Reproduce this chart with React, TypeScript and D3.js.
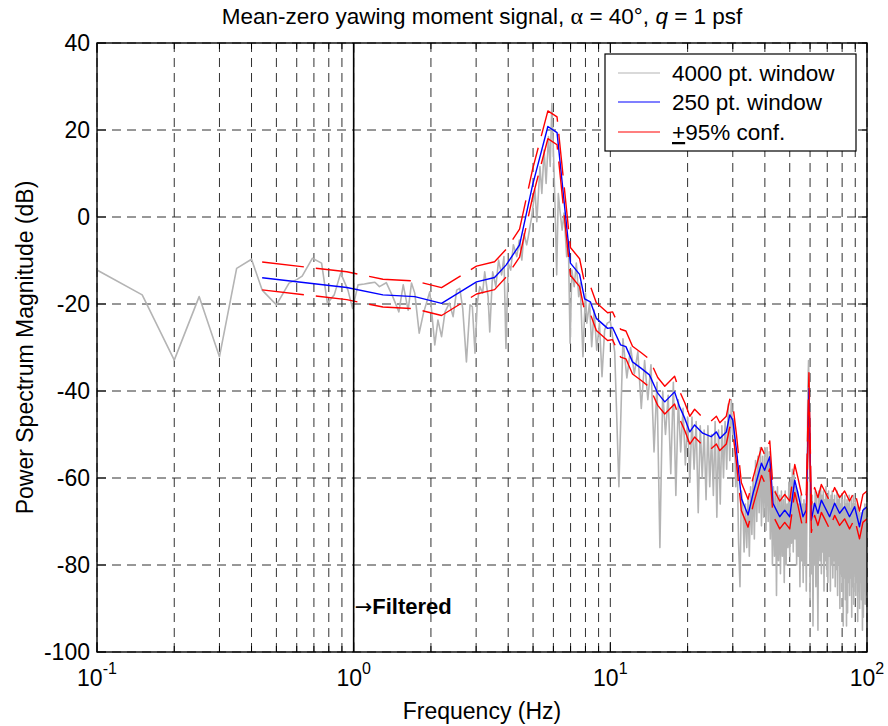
import React from "react";
import * as d3 from "d3";

// 4000 pt. window (Hz, dB)
const grayLow: [number, number][] = [
  [0.1, -12.2], [0.15, -17.9], [0.2, -32.9], [0.25, -18.3], [0.3, -32.1], [0.35, -11.8],
  [0.4, -9.7], [0.44, -16.8], [0.5, -20.2], [0.56, -15.2], [0.6, -14.4], [0.63, -13.6],
  [0.69, -9.5], [0.75, -10.6], [0.79, -19.8], [0.84, -17.9], [0.89, -12.9], [0.95, -16.8],
  [0.99, -21], [1.04, -15.6], [1.1, -15.4], [1.15, -15.2], [1.21, -15], [1.26, -16],
  [1.34, -15.1], [1.42, -18.3], [1.5, -21.8], [1.56, -15.6], [1.63, -21.4], [1.68, -15.2],
  [1.73, -17.5], [1.8, -26.7], [1.87, -22.1], [1.98, -17.2], [2.07, -29.4], [2.13, -23.7],
  [2.2, -27.5], [2.27, -21.8], [2.36, -19.8], [2.44, -22.9], [2.52, -16.8], [2.59, -16.4],
  [2.66, -21], [2.75, -33.3], [2.84, -20.2], [2.9, -20.6], [2.97, -31.3], [3.03, -19.8],
  [3.1, -16], [3.18, -17.5], [3.24, -12.6], [3.34, -18.3], [3.39, -26.4], [3.48, -12.6],
  [3.58, -16], [3.67, -9.9], [3.77, -13.3], [3.85, -9.1], [3.92, -30.2], [4.0, -10.6],
  [4.09, -12.2], [4.19, -6.4], [4.32, -9.1], [4.42, -5.3], [4.52, -9.9], [4.61, -3.8],
  [4.72, -6.4], [4.79, -4.5], [4.94, 0.1], [5.09, 6.2], [5.17, -1.1], [5.32, 11.6],
  [5.41, 5.4], [5.52, 15.4], [5.62, 7.7], [5.74, 18.5], [5.83, 11.6], [5.92, 26.1],
  [6.01, 13.9], [6.09, 2.4], [6.18, -13.3], [6.27, 5.4], [6.36, 1.6], [6.49, -3],
  [6.6, 0.9], [6.76, -9.1], [6.86, -5.3], [6.97, -29], [7.08, -12.2], [7.23, -16],
  [7.37, -10.6], [7.53, -18.3], [7.63, -15.2], [7.82, -32.1], [8.0, -17.5], [8.1, -24.4],
  [8.3, -19.8], [8.46, -29.8], [8.65, -21.4], [8.85, -30.6], [9.07, -24.4], [9.28, -36.7],
  [9.5, -26], [9.73, -24.4],
];

// 4000 pt. window above 10 Hz, every 0.4 Hz
const grayHighStart = 10;
const grayHighStep = 0.4;
const grayHigh = [
  -24, -31, -62, -28, -37, -30, -36, -31, -44, -33,
  -42, -34, -54, -38, -76, -40, -50, -41, -59, -38,
  -64, -42, -54, -44, -57, -46, -61, -46, -58, -47,
  -68, -48, -60, -49, -65, -48, -62, -50, -64, -47,
  -69, -49, -66, -48, -60, -47, -58, -43, -56, -42,
  -50, -47, -62, -55, -75, -85, -63, -66, -77, -66,
  -76, -65, -78, -62, -73, -60, -74, -56, -70, -55,
  -68, -53, -71, -55, -69, -53, -72, -53, -70, -54,
  -74, -58, -80, -62, -78, -63, -87, -62, -79, -64,
  -82, -63, -78, -65, -84, -63, -80, -66, -76, -61,
  -78, -60, -75, -58, -77, -59, -74, -62, -80, -63,
  -78, -66, -85, -64, -79, -66, -84, -65, -80, -66,
  -86, -64, -40, -33, -45, -88, -65, -82, -64, -94,
  -66, -80, -63, -85, -64, -78, -95, -63, -65, -79,
  -62, -82, -64, -77, -63, -86, -65, -79, -62, -81,
  -64, -84, -63, -78, -65, -86, -64, -80, -63, -83,
  -65, -79, -64, -85, -66, -81, -63, -87, -65, -80,
  -64, -90, -66, -82, -64, -86, -65, -94, -67, -83,
  -64, -88, -66, -94, -65, -91, -66, -84, -64, -87,
  -67, -83, -65, -92, -66, -85, -64, -89, -66, -82,
  -65, -87, -67, -84, -66, -93, -68, -86, -67, -90,
  -69, -84, -68, -88, -70, -95, -68, -92, -67, -86,
  -66, -89, -67, -84, -66, -87,
];

// 250 pt. window (Hz, dB)
const blue: [number, number][] = [
  [0.44, -13.95], [0.94, -16.2], [1.3, -17.9], [1.73, -18.3], [2.2, -19.85], [3.01, -14.9],
  [3.54, -13.9], [3.93, -11], [4.43, -6.4], [4.98, 7.4], [5.71, 20.8], [6.2, 19.4],
  [6.99, -10.6], [7.59, -13.2], [7.94, -18.8], [8.36, -19.5], [8.82, -23.3], [9.76, -25.6],
  [10.2, -25.4], [10.96, -29.4], [11.5, -29.8], [12.2, -33.3], [13.2, -34.8], [14.2, -36.3],
  [15.3, -40.5], [16.3, -42.5], [17.8, -40.2], [18.6, -43.6], [19.5, -46.3], [20.4, -49.4],
  [21.3, -47.8], [22.9, -49.7], [24.7, -50.5], [25.9, -49.4], [26.7, -50.9], [28.3, -49.4],
  [29.2, -45.5], [30.0, -46.7], [31.0, -53.6], [32.4, -64.7], [34.4, -68.5], [36.0, -63.5],
  [38.8, -56.6], [39.9, -58.2], [41.8, -55.1], [43.0, -65.8], [45.7, -68.9], [47.8, -67.4],
  [50.0, -68.9], [52.3, -60.5], [53.8, -63.5], [56.3, -68.9], [58.0, -67.4], [59.4, -39.4],
  [60.7, -69.7], [62.5, -65.8], [64.4, -68.1], [66.4, -65.1], [68.4, -66.6], [71.5, -68.9],
  [74.8, -65.8], [78.2, -68.1], [81.8, -66.6], [85.5, -68.9], [89.5, -66.6], [93.5, -71.2],
  [96.4, -67.4], [100, -66.6],
];

// 95% confidence offsets (dB)
const confUp = 3.6;
const confDown = -2.8;

const yTicks = [-100, -80, -60, -40, -20, 0, 20, 40];
const xDecades = [-1, 0, 1, 2];
const legendLabels = ["4000 pt. window", "250 pt. window", "95% conf."];

const font = "'Liberation Sans', Arial, Helvetica, sans-serif";

export default function App() {
  const left = 97, right = 867, top = 43, bottom = 652;

  const x = d3.scaleLog().domain([0.1, 100]).range([left, right]);
  const y = d3.scaleLinear().domain([-100, 40]).range([bottom, top]);

  const line = d3
    .line<[number, number]>()
    .x((d) => x(d[0]))
    .y((d) => y(d[1]));

  const grayData: [number, number][] = grayLow.concat(
    grayHigh.map((v, i) => [grayHighStart + i * grayHighStep, v] as [number, number])
  );
  const upper = blue.map((d) => [d[0], d[1] + confUp] as [number, number]);
  const lower = blue.map((d) => [d[0], d[1] + confDown] as [number, number]);

  // minor + major grid positions
  const xGrid: number[] = [];
  for (let e = -1; e < 2; e++) {
    for (let m = 1; m < 10; m++) xGrid.push(m * Math.pow(10, e));
  }
  xGrid.push(100);

  const gridStyle = { stroke: "#1a1a1a", strokeWidth: 0.9, strokeDasharray: "9,6" };

  const lx = 618, lw = 42;
  const legendY = [73, 102, 132];
  const legendColors = ["#b4b4b4", "#0000ff", "#ff0000"];

  return (
    <svg
      width={888}
      height={726}
      style={{ position: "absolute", left: 0, top: 0, background: "#fff" }}
      fontFamily={font}
    >
      <rect x={0} y={0} width={888} height={726} fill="#fff" />
      <defs>
        <clipPath id="plot">
          <rect x={left} y={top} width={right - left} height={bottom - top} />
        </clipPath>
      </defs>

      {/* grid */}
      {xGrid.map((f) => (
        <line key={"gx" + f} x1={x(f)} x2={x(f)} y1={top} y2={bottom} {...gridStyle} />
      ))}
      {yTicks.map((v) => (
        <line key={"gy" + v} x1={left} x2={right} y1={y(v)} y2={y(v)} {...gridStyle} />
      ))}

      {/* ticks, inward on all sides */}
      {xGrid.map((f) => {
        const len = [0.1, 1, 10, 100].includes(f) ? 10 : 6;
        return (
          <g key={"tx" + f} stroke="#000" strokeWidth={1}>
            <line x1={x(f)} x2={x(f)} y1={bottom} y2={bottom - len} />
            <line x1={x(f)} x2={x(f)} y1={top} y2={top + len} />
          </g>
        );
      })}
      {yTicks.map((v) => (
        <g key={"ty" + v} stroke="#000" strokeWidth={1}>
          <line x1={left} x2={left + 9} y1={y(v)} y2={y(v)} />
          <line x1={right} x2={right - 9} y1={y(v)} y2={y(v)} />
        </g>
      ))}

      {/* data */}
      <g clipPath="url(#plot)" fill="none" strokeLinejoin="round">
        <path d={line(grayData) || ""} stroke="#b4b4b4" strokeWidth={1.6} />
        <path d={line(blue) || ""} stroke="#0000ff" strokeWidth={1.4} />
        <path d={line(upper) || ""} stroke="#ff0000" strokeWidth={1.4} strokeDasharray="42,12" />
        <path d={line(lower) || ""} stroke="#ff0000" strokeWidth={1.4} strokeDasharray="42,12" />
      </g>

      {/* filter cut line */}
      <line x1={x(1)} x2={x(1)} y1={top} y2={bottom} stroke="#000" strokeWidth={1.6} />
      <text x={x(1) + 1} y={614} fontSize={22} fontWeight="bold" fill="#000">
        <tspan fontFamily="'DejaVu Sans', sans-serif" fontWeight="normal" fontSize={21}>→</tspan>
        Filtered
      </text>

      {/* axes box */}
      <rect x={left} y={top} width={right - left} height={bottom - top} fill="none" stroke="#000" strokeWidth={1.4} />

      {/* y tick labels */}
      {yTicks.map((v) => (
        <text key={"ly" + v} x={left - 7} y={y(v) + 8} fontSize={23} textAnchor="end" fill="#000">
          {v}
        </text>
      ))}

      {/* x tick labels */}
      {xDecades.map((e) => (
        <text key={"lx" + e} x={x(Math.pow(10, e))} y={686} fontSize={23} textAnchor="middle" fill="#000">
          10
          <tspan dy={-12} fontSize={16}>
            {e}
          </tspan>
        </text>
      ))}

      {/* labels */}
      <text x={(left + right) / 2} y={24} fontSize={22.5} textAnchor="middle" fill="#000">
        Mean-zero yawing moment signal,{" "}
        <tspan fontFamily="'Liberation Serif', serif" fontSize={24}>α</tspan> = 40°,{" "}
        <tspan fontStyle="italic">q</tspan> = 1 psf
      </text>
      <text x={(left + right) / 2} y={719} fontSize={23} textAnchor="middle" fill="#000">
        Frequency (Hz)
      </text>
      <text
        transform={`translate(33,${(top + bottom) / 2}) rotate(-90)`}
        fontSize={23}
        textAnchor="middle"
        fill="#000"
      >
        Power Spectrum Magnitude (dB)
      </text>

      {/* legend */}
      <rect x={605} y={54} width={251} height={97} fill="#fff" stroke="#000" strokeWidth={1.2} />
      {legendLabels.map((s, i) => (
        <g key={"lg" + i}>
          <line x1={lx} x2={lx + lw} y1={legendY[i]} y2={legendY[i]} stroke={legendColors[i]} strokeWidth={1.2} />
          <text x={672} y={legendY[i] + 8} fontSize={22.5} fill="#000">
            {i === 2 ? (
              <>
                <tspan textDecoration="underline">+</tspan>
                {s}
              </>
            ) : (
              s
            )}
          </text>
        </g>
      ))}
    </svg>
  );
}
